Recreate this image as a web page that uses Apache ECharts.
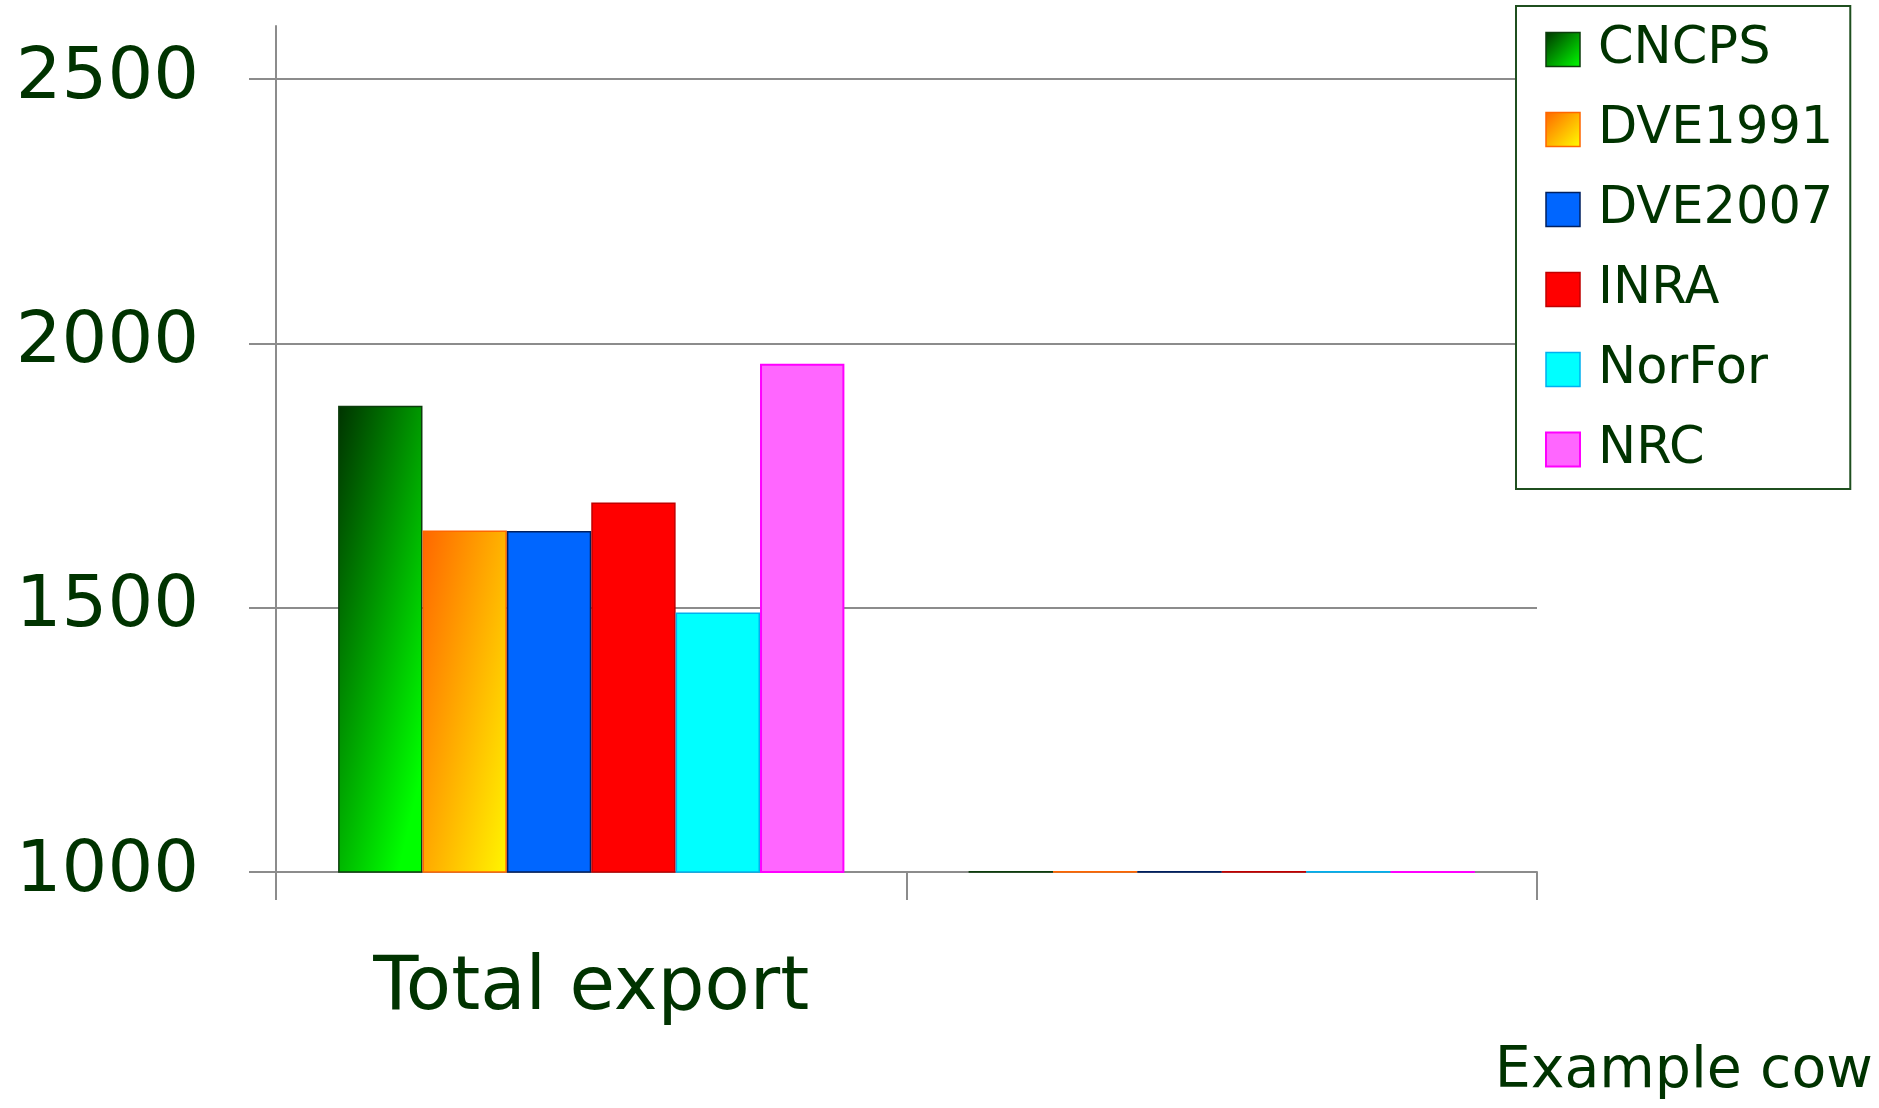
<!DOCTYPE html>
<html>
<head>
<meta charset="utf-8">
<script src="https://cdn.jsdelivr.net/npm/echarts@6/dist/echarts.min.js"></script>
<style>
  html, body { margin: 0; padding: 0; background: #ffffff; }
  #chart { width: 1879px; height: 1108px; }
</style>
</head>
<body>
<div id="chart"></div>
<script>
// Categories and model names
const categories = ['Total export', 'Example cow'];
const models = ['CNCPS', 'DVE1991', 'DVE2007', 'INRA', 'NorFor', 'NRC'];

// Values per model, one per category
const cncps   = [1882, 1002];
const dve1991 = [1646, 1002];
const dve2007 = [1645, 1002];
const inra    = [1699, 1002];
const norfor  = [1491, 1002];
const nrc     = [1961, 1002];

// Labelled ticks on the value axis
const yTicks = [1000, 1500, 2000, 2500];

const FONT = 'DejaVu Sans';
const TEXT = '#003300';
const GRID = '#8c8c8c';

function grad(x2, y2, c0, c1) {
  return new echarts.graphic.LinearGradient(0, 0, x2, y2, [
    { offset: 0, color: c0 },
    { offset: 1, color: c1 }
  ]);
}

const styles = [
  { color: grad(1.9, 0.08, '#003300', '#00ff00'), borderColor: '#0d3d0d', borderWidth: 1.5 },
  { color: grad(1.9, 0.1, '#ff6600', '#ffff00'), borderColor: '#ff6600', borderWidth: 1.5 },
  { color: '#0066ff', borderColor: '#002060', borderWidth: 1.5 },
  { color: '#ff0000', borderColor: '#c00000', borderWidth: 1.5 },
  { color: '#00ffff', borderColor: '#00b0f0', borderWidth: 1.5 },
  { color: '#ff66ff', borderColor: '#ff00ff', borderWidth: 2 }
];
const legendStyles = [
  { color: grad(1, 1, '#003300', '#00ff00'), borderColor: '#0d3d0d', borderWidth: 1.5 },
  { color: grad(1, 1, '#ff6600', '#ffff00'), borderColor: '#ff6600', borderWidth: 1.5 },
  styles[2], styles[3], styles[4], styles[5]
];
const seriesData = [cncps, dve1991, dve2007, inra, norfor, nrc];

const chart = echarts.init(document.getElementById('chart'), null, { renderer: 'canvas' });
chart.setOption({
  animation: false,
  backgroundColor: '#ffffff',
  textStyle: { fontFamily: FONT },
  grid: { left: 276, right: 342, top: 26, bottom: 236, outerBoundsMode: 'none', containLabel: false },
  legend: {
    orient: 'vertical',
    left: 1516,
    top: 6,
    padding: [18, 17, 14, 29],
    itemWidth: 34,
    itemHeight: 34,
    itemGap: 29,
    icon: 'rect',
    borderColor: '#1f4f1f',
    borderWidth: 2,
    backgroundColor: '#ffffff',
    textStyle: { fontFamily: FONT, fontSize: 51, lineHeight: 50, color: TEXT, padding: [0, 0, 0, 13] },
    data: models.map((m, i) => ({ name: m, itemStyle: legendStyles[i] }))
  },
  xAxis: {
    type: 'category',
    data: categories,
    boundaryGap: true,
    axisLine: { show: true, lineStyle: { color: GRID, width: 2 } },
    axisTick: { show: true, interval: 0, length: 28, alignWithLabel: false, lineStyle: { color: GRID, width: 2 } },
    splitLine: { show: false },
    axisLabel: {
      interval: 0,
      margin: 81,
      hideOverlap: false,
      formatter: (v, i) => (i === 0 ? '{a|' + v + '}' : '{b|' + v + '}'),
      rich: {
        a: { fontFamily: FONT, fontSize: 74, lineHeight: 74, color: TEXT },
        b: { fontFamily: FONT, fontSize: 57, lineHeight: 57, color: TEXT, padding: [181, 0, 0, 924] }
      }
    }
  },
  yAxis: {
    type: 'value',
    min: 1000,
    max: 2600,
    interval: 500,
    axisLine: { show: true, lineStyle: { color: GRID, width: 2 } },
    axisTick: { show: true, length: 27, customValues: yTicks, lineStyle: { color: GRID, width: 2 } },
    splitLine: { show: true, lineStyle: { color: GRID, width: 2 } },
    axisLabel: {
      margin: 77,
      customValues: yTicks,
      formatter: v => String(v),
      fontFamily: FONT,
      fontSize: 72,
      color: TEXT
    }
  },
  series: models.map((m, i) => ({
    name: m,
    type: 'bar',
    barGap: '0%',
    barCategoryGap: '19.7%',
    data: seriesData[i],
    itemStyle: styles[i],
    emphasis: { disabled: true }
  }))
});
</script>
</body>
</html>
